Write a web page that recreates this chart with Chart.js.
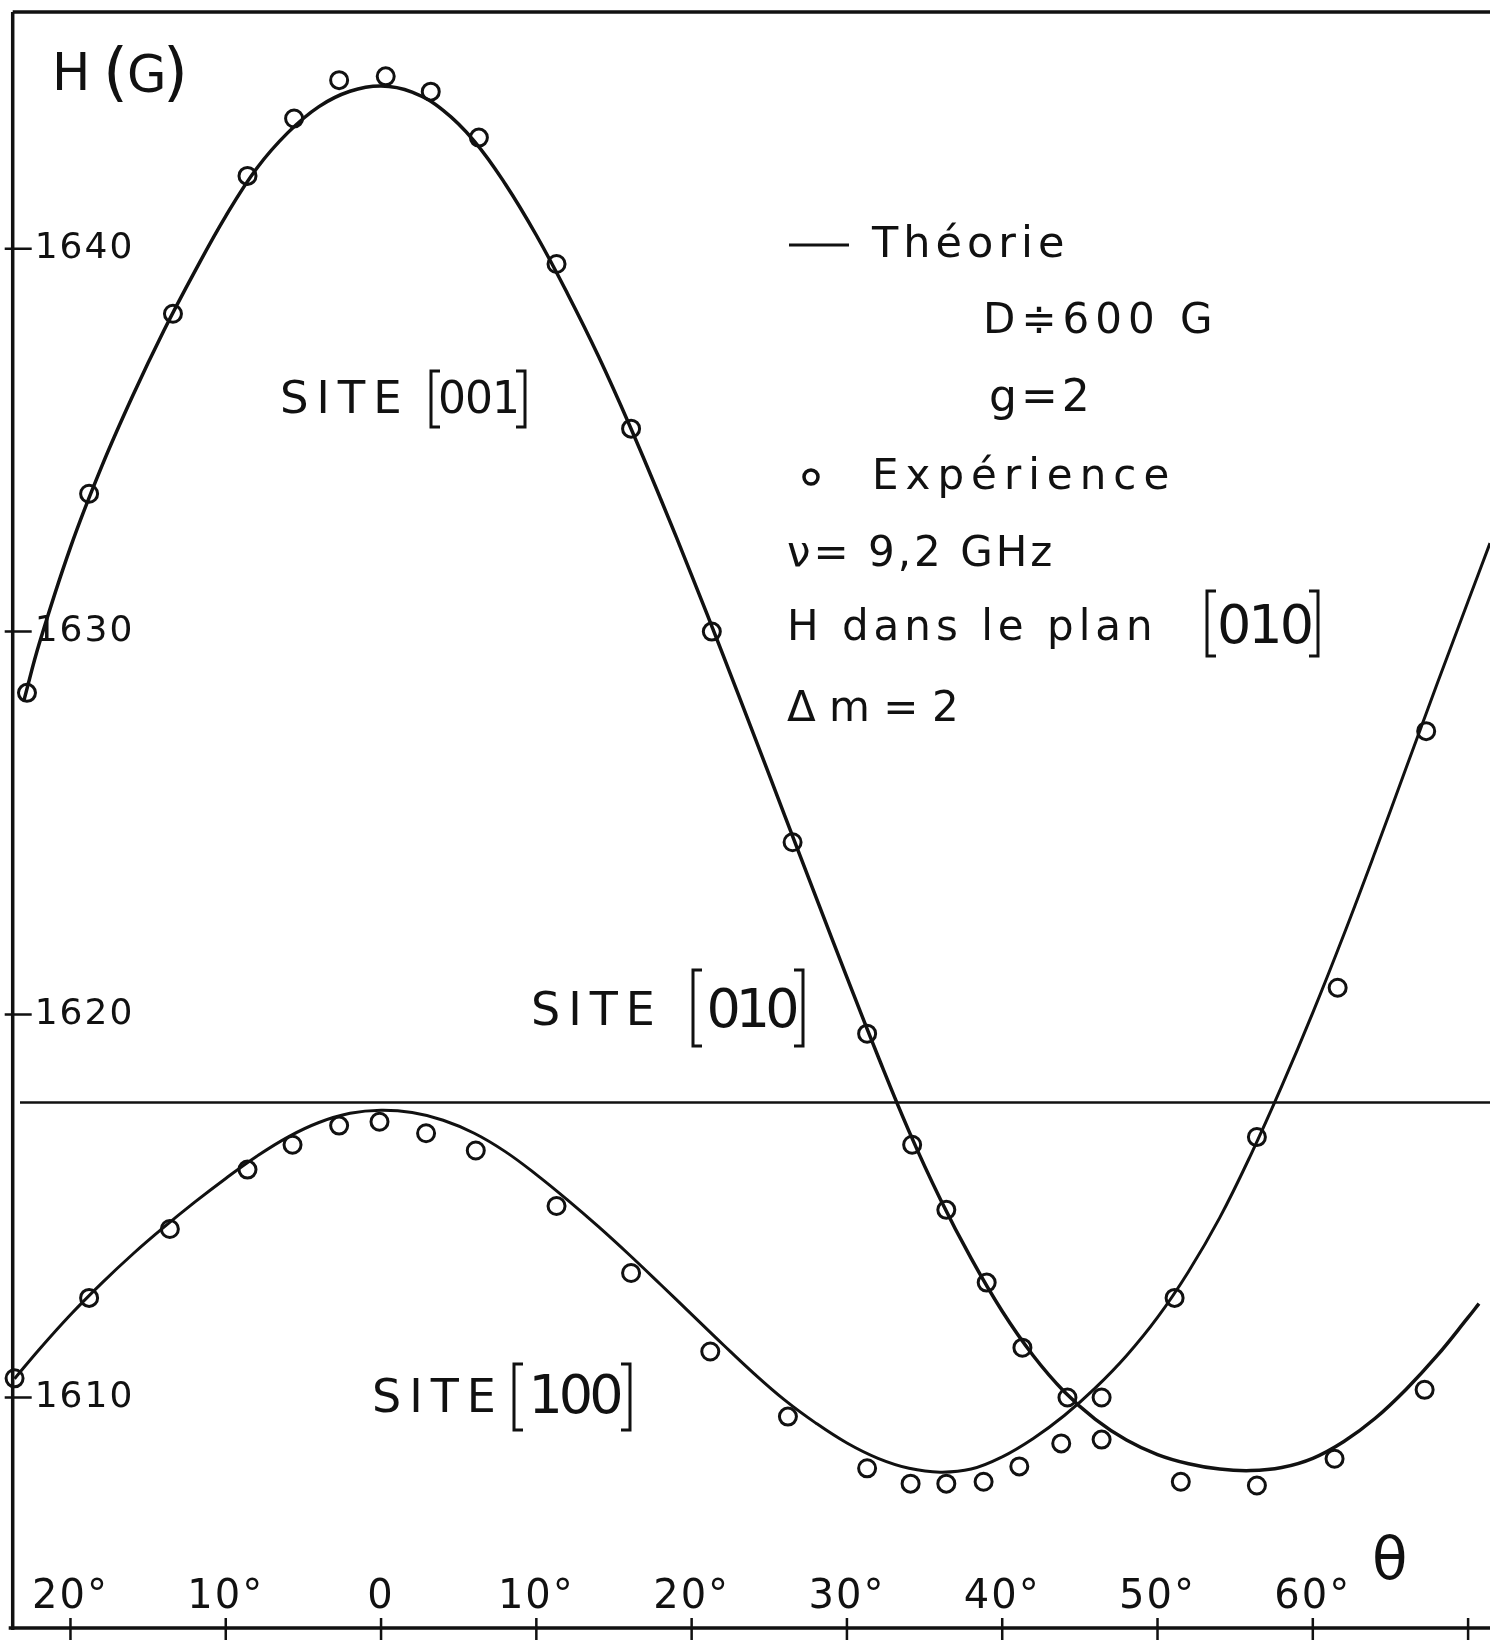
<!DOCTYPE html>
<html>
<head>
<meta charset="utf-8">
<title>H(θ) – sites [001], [010], [100]</title>
<script src="https://cdn.jsdelivr.net/npm/chart.js@4.4.0/dist/chart.umd.min.js"></script>
<style>
  html, body { margin: 0; padding: 0; background: #fff; }
  #wrap { width: 1490px; height: 1640px; }
</style>
</head>
<body>
<div id="wrap"><canvas id="chart" width="1490" height="1640"></canvas></div>
<script>
// θ in degrees, H in gauss
const xTicks = [-20, -10, 0, 10, 20, 30, 40, 50, 60, 70];
const xTickLabels = ['20°', '10°', '0', '10°', '20°', '30°', '40°', '50°', '60°', ''];
const yTicks = [1610, 1620, 1630, 1640];
const yTickLabels = ['1610', '1620', '1630', '1640'];

// theory, site [001]
const thetaTh001 = [-23, -22, -20, -18, -16, -14, -12, -10, -8, -6, -4, -2, 0, 2, 4, 6, 8, 10, 12, 14,
  16, 18, 20, 22, 24, 26, 28, 30, 32, 34, 36, 38, 40, 42, 44, 46, 48, 50, 52, 54, 56, 58, 60, 62, 64,
  66, 68, 70, 70.7];
const hTh001 = [1628.2, 1629.7, 1632.2, 1634.3, 1636.15, 1637.85, 1639.4, 1640.85, 1642.1, 1643.03,
  1643.71, 1644.11, 1644.25, 1644.09, 1643.61, 1642.81, 1641.69, 1640.35, 1638.83, 1637.19, 1635.39,
  1633.47, 1631.47, 1629.41, 1627.31, 1625.19, 1623.07, 1620.97, 1618.91, 1616.95, 1615.19, 1613.63,
  1612.25, 1611.09, 1610.15, 1609.43, 1608.89, 1608.51, 1608.27, 1608.13, 1608.09, 1608.17, 1608.41,
  1608.85, 1609.45, 1610.21, 1611.09, 1612.09, 1612.45];

// theory, site [100]
const thetaTh100 = [-23.6, -22, -20, -18, -16, -14, -12, -10, -8, -6, -4, -2, 0, 2, 4, 6, 8, 10, 12, 14,
  16, 18, 20, 22, 24, 26, 28, 30, 32, 34, 36, 38, 40, 42, 44, 46, 48, 50, 52, 54, 56, 58, 60, 62, 64,
  66, 68, 70, 71.41];
const hTh100 = [1610.49, 1611.26, 1612.16, 1612.98, 1613.74, 1614.44, 1615.1, 1615.72, 1616.3, 1616.8,
  1617.18, 1617.42, 1617.5, 1617.44, 1617.24, 1616.9, 1616.42, 1615.82, 1615.16, 1614.46, 1613.72,
  1612.95, 1612.17, 1611.39, 1610.63, 1609.93, 1609.33, 1608.81, 1608.41, 1608.15, 1608.05, 1608.13,
  1608.45, 1608.93, 1609.53, 1610.25, 1611.09, 1612.09, 1613.29, 1614.69, 1616.33, 1618.13, 1620.05,
  1622.09, 1624.23, 1626.43, 1628.63, 1630.79, 1632.31];

// theory, site [010] (field independent of θ)
const thetaTh010 = [-23.25, 71.41];
const hTh010 = [1617.7, 1617.7];

// measured points
const thetaExp001 = [-22.8, -18.8, -13.4, -8.6, -5.6, -2.7, 0.3, 3.2, 6.3, 11.3, 16.1, 21.3, 26.5, 31.3,
  34.2, 36.4, 39.0, 41.3, 44.2, 46.4, 51.5, 56.4, 61.4, 67.2];
const hExp001 = [1628.4, 1633.6, 1638.3, 1641.9, 1643.4, 1644.4, 1644.5, 1644.1, 1642.9, 1639.6, 1635.3,
  1630.0, 1624.5, 1619.5, 1616.6, 1614.9, 1613.0, 1611.3, 1610.0, 1608.9, 1607.8, 1607.7, 1608.4, 1610.2];

const thetaExp100 = [-23.6, -18.8, -13.6, -8.6, -5.7, -2.7, -0.1, 2.9, 6.1, 11.3, 16.1, 21.2, 26.2, 31.3,
  34.1, 36.4, 38.8, 41.1, 43.8, 46.4, 51.1, 56.4, 61.6, 67.3];
const hExp100 = [1610.5, 1612.6, 1614.4, 1615.95, 1616.6, 1617.1, 1617.2, 1616.9, 1616.45, 1615.0, 1613.25,
  1611.2, 1609.5, 1608.15, 1607.75, 1607.75, 1607.8, 1608.2, 1608.8, 1610.0, 1612.6, 1616.8, 1620.7, 1627.4];

const ink = '#111';
const FONT = '"DejaVu Sans", sans-serif';

const pts = (xs, ys) => xs.map((x, i) => ({ x, y: ys[i] }));

const curve = (data, width) => ({
  data, showLine: true, borderColor: ink, borderWidth: width,
  pointRadius: 0, tension: 0.4
});
const marks = data => ({
  data, showLine: false, clip: false, pointStyle: 'circle', pointRadius: 8.5,
  pointBorderWidth: 3, pointBorderColor: ink, pointBackgroundColor: 'rgba(0,0,0,0)'
});

// text drawn left to right on one baseline
function run(ctx, x, y, text, size, spacing = 0) {
  ctx.textAlign = 'left';
  ctx.textBaseline = 'alphabetic';
  ctx.letterSpacing = spacing + 'px';
  ctx.font = `${size}px ${FONT}`;
  ctx.fillText(text, x, y);
  ctx.letterSpacing = '0px';
}

// crystal direction in tall square brackets
function direction(ctx, label, left, right, top, bottom, size, baseline, spacing) {
  ctx.lineWidth = 3;
  ctx.beginPath();
  ctx.moveTo(left + 9, top); ctx.lineTo(left, top); ctx.lineTo(left, bottom); ctx.lineTo(left + 9, bottom);
  ctx.moveTo(right - 9, top); ctx.lineTo(right, top); ctx.lineTo(right, bottom); ctx.lineTo(right - 9, bottom);
  ctx.stroke();
  ctx.font = `${size}px ${FONT}`;
  ctx.letterSpacing = spacing + 'px';
  ctx.textAlign = 'center';
  ctx.textBaseline = 'alphabetic';
  ctx.fillText(label, (left + right) / 2 - spacing / 2, baseline);
  ctx.letterSpacing = '0px';
}

// frame, tick marks and tick labels, placed through the scales
const axes = {
  id: 'axes',
  beforeDatasetsDraw(chart) {
    const { ctx, chartArea: a, scales: { x, y }, width, height } = chart;
    ctx.save();
    ctx.strokeStyle = ink;
    ctx.fillStyle = ink;
    ctx.lineCap = 'butt';

    ctx.lineWidth = 3.5;
    ctx.beginPath();
    ctx.moveTo(a.left, a.top); ctx.lineTo(width, a.top);
    ctx.moveTo(a.left, a.top); ctx.lineTo(a.left, a.bottom + 2);
    ctx.moveTo(a.left - 4, a.bottom); ctx.lineTo(width, a.bottom);
    ctx.stroke();

    ctx.lineWidth = 2.5;
    ctx.beginPath();
    yTicks.forEach(v => {
      const py = y.getPixelForValue(v);
      ctx.moveTo(a.left - 8, py); ctx.lineTo(a.left + 19, py);
    });
    xTicks.forEach(v => {
      const px = x.getPixelForValue(v);
      ctx.moveTo(px, a.bottom - 10); ctx.lineTo(px, height);
    });
    ctx.stroke();

    ctx.font = `36px ${FONT}`;
    ctx.textAlign = 'left';
    ctx.textBaseline = 'middle';
    ctx.letterSpacing = '2px';
    yTicks.forEach((v, i) => ctx.fillText(yTickLabels[i], a.left + 22, y.getPixelForValue(v)));

    // θ labels sit above the axis
    ctx.font = `40px ${FONT}`;
    ctx.textAlign = 'center';
    ctx.textBaseline = 'alphabetic';
    xTicks.forEach((v, i) => ctx.fillText(xTickLabels[i], x.getPixelForValue(v), 1608));
    ctx.letterSpacing = '0px';
    ctx.restore();
  }
};

const annotations = {
  id: 'annotations',
  afterDraw(chart) {
    const { ctx } = chart;
    ctx.save();
    ctx.strokeStyle = ink;
    ctx.fillStyle = ink;

    // axis titles
    ctx.textAlign = 'left';
    ctx.textBaseline = 'alphabetic';
    ctx.font = `51px ${FONT}`;
    ctx.fillText('H', 52, 90);
    ctx.fillText('G', 127, 92);
    ctx.font = `64px ${FONT}`;
    ctx.fillText('(', 103, 94);
    ctx.fillText(')', 163, 94);
    ctx.font = `58px ${FONT}`;
    ctx.fillText('θ', 1372, 1579);

    // legend
    ctx.lineWidth = 3;
    ctx.beginPath();
    ctx.moveTo(789, 245); ctx.lineTo(849, 245);
    ctx.stroke();
    run(ctx, 872, 257, 'Théorie', 43, 5);
    run(ctx, 983, 333, 'D≑600 G', 42, 6);
    run(ctx, 989, 411, 'g=2', 44, 4);
    ctx.lineWidth = 3.5;
    ctx.beginPath();
    ctx.arc(811, 477, 7, 0, Math.PI * 2);
    ctx.stroke();
    run(ctx, 872, 489, 'Expérience', 42, 7);
    run(ctx, 787, 566, 'ν= 9,2 GHz', 42, 3);
    run(ctx, 787, 640, 'H dans le plan', 42, 5);
    direction(ctx, '010', 1207, 1318, 591, 656, 54, 643, -3);
    run(ctx, 787, 721, 'Δ m = 2', 42, 0);

    // site labels
    run(ctx, 280, 413, 'SITE', 45, 8);
    direction(ctx, '001', 431, 525, 371, 427, 44, 413, -1);
    run(ctx, 531, 1025, 'SITE', 46, 8);
    direction(ctx, '010', 693, 803, 970, 1046, 54, 1027, -5);
    run(ctx, 372, 1412, 'SITE', 46, 8);
    direction(ctx, '100', 514, 630, 1364, 1430, 54, 1413, -4);

    ctx.restore();
  }
};

new Chart(document.getElementById('chart'), {
  type: 'scatter',
  data: {
    datasets: [
      curve(pts(thetaTh001, hTh001), 3.5),
      curve(pts(thetaTh100, hTh100), 3),
      curve(pts(thetaTh010, hTh010), 2.5),
      marks(pts(thetaExp001, hExp001)),
      marks(pts(thetaExp100, hExp100))
    ]
  },
  options: {
    responsive: false,
    animation: false,
    devicePixelRatio: 1,
    layout: { autoPadding: false, padding: { left: 12.7, top: 12, right: 0, bottom: 12 } },
    plugins: { legend: { display: false }, tooltip: { enabled: false } },
    scales: {
      x: { type: 'linear', display: false, min: -23.72, max: 71.41 },
      y: { type: 'linear', display: false, min: 1603.98, max: 1646.18 }
    }
  },
  plugins: [axes, annotations]
});
</script>
</body>
</html>
